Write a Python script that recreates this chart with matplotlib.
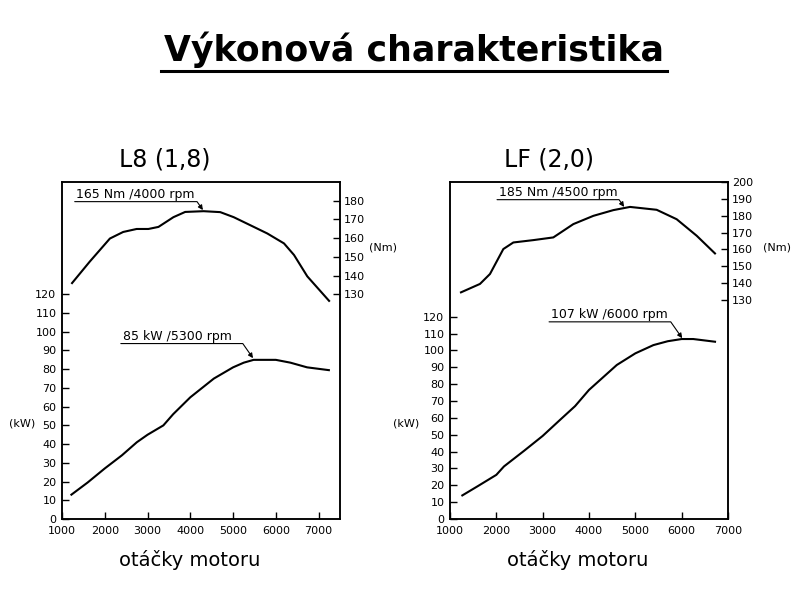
import matplotlib.pyplot as plt
from matplotlib.lines import Line2D

# L8 (1,8)
l8_rpm_kw = [1220, 1600, 2000, 2400, 2750, 3000, 3370, 3600, 4000, 4550, 5000, 5250, 5480, 6000, 6340, 6730, 7240]
l8_kw = [13, 19.5, 27, 34, 41, 45, 50, 56, 65, 75, 81, 83.5, 85, 85, 83.5, 81, 79.5]
l8_rpm_nm = [1235, 1650, 2120, 2430, 2745, 3020, 3255, 3605, 3880, 4310, 4700, 5015, 5485, 5800, 6190, 6425, 6735, 7245]
l8_nm = [136, 147.5, 159.8, 163.3, 164.9, 164.9, 166, 171.2, 174, 174.4, 173.9, 171.2, 166, 162.5, 157.2, 151, 139.6, 126.5]

# LF (2,0)
lf_rpm_kw = [1266, 1600, 2000, 2165, 2600, 3000, 3374, 3700, 4000, 4600, 5000, 5390, 5700, 6000, 6250, 6720]
lf_kw = [14, 19.5, 26.2, 31.2, 40.5, 49.3, 58.8, 67, 76.6, 91.4, 98.3, 103.2, 105.5, 106.8, 106.8, 105.2]
lf_rpm_nm = [1237, 1647, 1863, 2151, 2367, 2799, 3230, 3662, 4094, 4525, 4885, 5460, 5892, 6324, 6719]
lf_nm = [134.5, 139.5, 145.4, 160.2, 164.1, 165.5, 167.1, 175, 179.9, 183.3, 185.2, 183.5, 177.9, 168.1, 157.6]

kw_ticks = list(range(0, 130, 10))
l8_nm_ticks = list(range(130, 190, 10))
lf_nm_ticks = list(range(130, 210, 10))
rpm_ticks = list(range(1000, 8000, 1000))

fig = plt.figure(figsize=(8, 6), dpi=100)
fig.patch.set_facecolor('white')


def panel(rect, xmax, kw_lim, nm_lim, nm_ticks, rpm_kw, kw, rpm_nm, nm, note_nm, note_kw):
    ax = fig.add_axes(rect)
    ax2 = ax.twinx()
    ax.plot(rpm_kw, kw, color='black', lw=1.5)
    ax2.plot(rpm_nm, nm, color='black', lw=1.5)
    ax.set_xlim(1000, xmax)
    ax.set_ylim(*kw_lim)
    ax2.set_ylim(*nm_lim)
    ax.set_xticks(rpm_ticks)
    ax.set_yticks(kw_ticks)
    ax2.set_yticks(nm_ticks)
    for a in (ax, ax2):
        for s in a.spines.values():
            s.set_linewidth(1.1)
    ax.tick_params(axis='both', direction='in', length=5, width=1, labelsize=8, pad=4)
    ax.tick_params(axis='x', pad=5)
    ax2.tick_params(axis='y', direction='in', length=5, width=1, labelsize=8, pad=3)
    # annotations: text, underline, and arrow to the curve
    for a, (txt, x0, x1, yl, tip) in ((ax2, note_nm), (ax, note_kw)):
        a.text(x0 + 40, yl + 2, txt, fontsize=9, va='baseline', ha='left')
        a.annotate('', xy=tip, xytext=(x0, yl),
                   arrowprops=dict(arrowstyle='-|>', lw=0.8, color='black', mutation_scale=7,
                                   shrinkA=0, shrinkB=0,
                                   connectionstyle='angle,angleA=0,angleB=-55,rad=0'))
    return ax


panel([0.0775, 0.135, 0.3475, 0.5617], 7500, (0, 180), (10, 190), l8_nm_ticks,
      l8_rpm_kw, l8_kw, l8_rpm_nm, l8_nm,
      ('165 Nm /4000 rpm', 1297, 4155, 179.5, (4295, 175.0)),
      ('85 kW /5300 rpm', 2375, 4975, 93.7, (5466, 85.9)))
panel([0.5625, 0.135, 0.3475, 0.5617], 7000, (0, 200), (0, 200), lf_nm_ticks,
      lf_rpm_kw, lf_kw, lf_rpm_nm, lf_nm,
      ('185 Nm /4500 rpm', 2015, 4607, 189.5, (4758, 185.2)),
      ('107 kW /6000 rpm', 3138, 5557, 117.0, (6011, 107.3)))

fig.text(414 / 800, 1 - 50 / 600, 'Výkonová charakteristika', fontsize=25, fontweight='bold',
         ha='center', va='center')
fig.add_artist(Line2D([161 / 800, 667 / 800], [1 - 70.5 / 600] * 2, color='black', lw=2.2))

fig.text(164.5 / 800, 1 - 160 / 600, 'L8 (1,8)', fontsize=17, ha='center', va='center')
fig.text(549 / 800, 1 - 160 / 600, 'LF (2,0)', fontsize=17, ha='center', va='center')
fig.text(190 / 800, 1 - 560 / 600, 'otáčky motoru', fontsize=14, ha='center', va='center')
fig.text(578 / 800, 1 - 560 / 600, 'otáčky motoru', fontsize=14, ha='center', va='center')

fig.text(22 / 800, 1 - 424 / 600, '(kW)', fontsize=8, ha='center', va='center')
fig.text(406 / 800, 1 - 424 / 600, '(kW)', fontsize=8, ha='center', va='center')
fig.text(383 / 800, 1 - 247 / 600, '(Nm)', fontsize=8, ha='center', va='center')
fig.text(777 / 800, 1 - 247 / 600, '(Nm)', fontsize=8, ha='center', va='center')

fig.savefig('out.png', dpi=100, facecolor='white')
